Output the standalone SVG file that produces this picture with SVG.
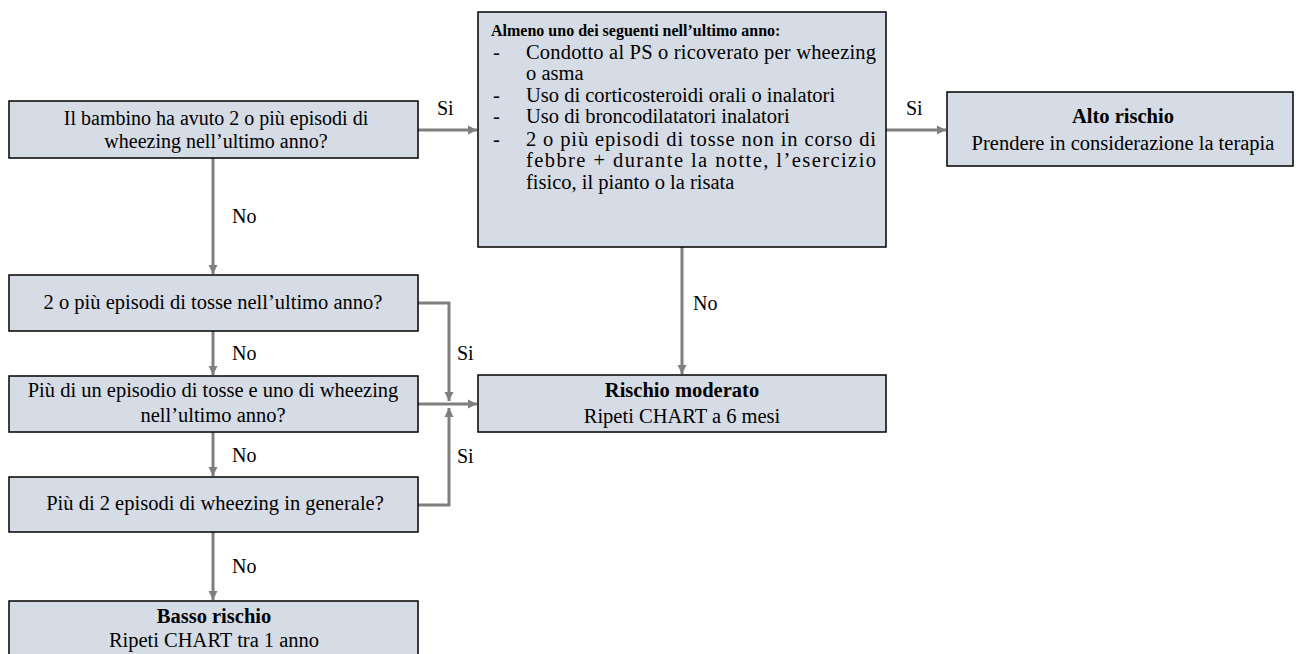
<svg xmlns="http://www.w3.org/2000/svg" width="1296" height="654" viewBox="0 0 1296 654">
<style>
.box{fill:#d6dce5;stroke:#000;stroke-width:1.5}
.t{font-family:"Liberation Serif","Times New Roman",serif;font-size:20.5px;fill:#000}
.c{text-anchor:middle}
.b{font-weight:bold}
.h{font-size:16px}
.s20{font-size:20px}
.con{fill:none;stroke:#7f7f7f;stroke-width:3}
.lab{font-family:"Liberation Serif","Times New Roman",serif;font-size:20px;fill:#000}
</style>
<defs>
<marker id="ah" viewBox="0 0 10 10" refX="10" refY="5" markerUnits="userSpaceOnUse" markerWidth="9" markerHeight="10" orient="auto">
<path d="M0,0 L10,5 L0,10 z" fill="#7f7f7f"/>
</marker>
</defs>
<rect width="1296" height="654" fill="#fff"/>
<g id="connectors">
<path class="con" d="M418,130 H477" marker-end="url(#ah)"/>
<path class="con" d="M886,130 H946" marker-end="url(#ah)"/>
<path class="con" d="M213,158 V274" marker-end="url(#ah)"/>
<path class="con" d="M213,331 V375" marker-end="url(#ah)"/>
<path class="con" d="M213,432 V476" marker-end="url(#ah)"/>
<path class="con" d="M213,532 V600" marker-end="url(#ah)"/>
<path class="con" d="M682,247 V374" marker-end="url(#ah)"/>
<path class="con" d="M418,303 H449 V401" marker-end="url(#ah)"/>
<path class="con" d="M418,404 H477" marker-end="url(#ah)"/>
<path class="con" d="M418,505 H449 V408" marker-end="url(#ah)"/>
<text class="lab" x="437" y="115">Si</text>
<text class="lab" x="906" y="115">Si</text>
<text class="lab" x="232" y="223">No</text>
<text class="lab" x="232" y="360">No</text>
<text class="lab" x="232" y="462">No</text>
<text class="lab" x="232" y="573">No</text>
<text class="lab" x="693" y="310">No</text>
<text class="lab" x="457" y="360">Si</text>
<text class="lab" x="457" y="463">Si</text>
</g>
<g id="q1">
<rect class="box" x="9" y="101" width="409" height="57"/>
<text class="t c s20" x="216" y="125">Il bambino ha avuto 2 o più episodi di</text>
<text class="t c s20" x="216" y="148">wheezing nell’ultimo anno?</text>
</g>
<g id="q2">
<rect class="box" x="478" y="12" width="408" height="235"/>
<text class="t b h" x="491" y="36">Almeno uno dei seguenti nell’ultimo anno:</text>
<text class="t" x="493" y="59">-</text>
<text class="t" x="526" y="59" textLength="350" lengthAdjust="spacing">Condotto al PS o ricoverato per wheezing</text>
<text class="t" x="526" y="80">o asma</text>
<text class="t" x="493" y="102">-</text>
<text class="t" x="526" y="102">Uso di corticosteroidi orali o inalatori</text>
<text class="t" x="493" y="123">-</text>
<text class="t" x="526" y="123">Uso di broncodilatatori inalatori</text>
<text class="t" x="493" y="146">-</text>
<text class="t" x="526" y="146" textLength="350" lengthAdjust="spacing">2 o più episodi di tosse non in corso di</text>
<text class="t" x="526" y="167" textLength="350" lengthAdjust="spacing">febbre + durante la notte, l’esercizio</text>
<text class="t" x="526" y="189">fisico, il pianto o la risata</text>
</g>
<g id="alto">
<rect class="box" x="947" y="92" width="346" height="74"/>
<text class="t c b" x="1123" y="123">Alto rischio</text>
<text class="t c" x="1123" y="150">Prendere in considerazione la terapia</text>
</g>
<g id="q3">
<rect class="box" x="9" y="275" width="409" height="56"/>
<text class="t c" x="213" y="309">2 o più episodi di tosse nell’ultimo anno?</text>
</g>
<g id="q4">
<rect class="box" x="9" y="376" width="409" height="56"/>
<text class="t c" x="213" y="397">Più di un episodio di tosse e uno di wheezing</text>
<text class="t c" x="213" y="422">nell’ultimo anno?</text>
</g>
<g id="q5">
<rect class="box" x="9" y="477" width="409" height="55"/>
<text class="t c" x="215" y="510">Più di 2 episodi di wheezing in generale?</text>
</g>
<g id="moderato">
<rect class="box" x="478" y="375" width="408" height="57"/>
<text class="t c b" x="682" y="397">Rischio moderato</text>
<text class="t c" x="682" y="423">Ripeti CHART a 6 mesi</text>
</g>
<g id="basso">
<rect class="box" x="9" y="601" width="409" height="60"/>
<text class="t c b" x="214" y="623">Basso rischio</text>
<text class="t c" x="214" y="647">Ripeti CHART tra 1 anno</text>
</g>
</svg>
